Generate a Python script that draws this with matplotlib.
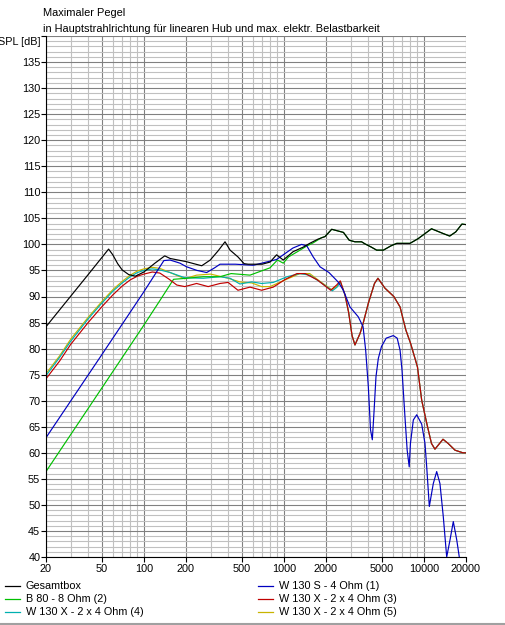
import matplotlib
matplotlib.use("Agg")
import matplotlib.pyplot as plt
from matplotlib.lines import Line2D
from matplotlib.ticker import FixedLocator, NullFormatter

plt.rcParams['font.family'] = ['Liberation Sans', 'DejaVu Sans']

# ---- data ----
f_gesamt = [20, 40, 56, 60, 65, 70, 78, 87, 100, 120, 141, 154, 200, 259, 298, 340, 380,
            413, 470, 520, 556, 700, 796, 887, 990, 1164, 1380, 1530, 1750, 1968, 2196,
            2665, 2930, 3220, 3590, 3800, 4200, 4600, 5140, 5800, 6400, 7960, 9100, 11340,
            13700, 15300, 16900, 18700, 20000]
spl_gesamt = [84.2, 94.2, 99.1, 98.0, 96.3, 95.1, 94.2, 93.9, 94.7, 96.4, 97.8, 97.3, 96.7,
              95.9, 97.0, 98.8, 100.5, 98.9, 97.6, 96.3, 96.2, 96.2, 96.6, 98.0, 97.0, 98.6,
              99.5, 100.2, 101.0, 101.5, 102.9, 102.3, 100.8, 100.5, 100.5, 100.1, 99.5, 98.9,
              98.9, 99.7, 100.2, 100.2, 101.1, 103.0, 102.1, 101.6, 102.4, 103.9, 103.8]

f_w130s = [20, 50, 100, 139, 154, 181, 202, 240, 281, 320, 350, 450, 606, 887, 990, 1160,
           1340, 1460, 1620, 1812, 2100, 2440, 2660, 2966, 3400, 3680, 3840, 4012, 4160,
           4284, 4400, 4550, 4728, 4980, 5380, 6050, 6450, 6760, 6980, 7328, 7600, 7860,
           8020, 8410, 8890, 9650, 10186, 10480, 10940, 11680, 12350, 13030, 13770, 14560,
           15380, 16230, 17170, 17910, 20000]
spl_w130s = [62.9, 78.8, 90.9, 96.9, 97.0, 96.4, 95.7, 95.0, 94.6, 95.5, 96.2, 96.2, 96.0,
             97.1, 98.0, 99.3, 100.0, 99.7, 97.6, 95.7, 94.6, 92.8, 91.2, 88.0, 86.1, 84.2,
             79.7, 72.7, 64.4, 62.5, 67.6, 74.6, 78.1, 80.4, 82.0, 82.5, 82.0, 79.7, 75.9,
             66.9, 60.5, 57.3, 61.8, 66.3, 67.3, 65.5, 61.8, 57.3, 49.7, 54.1, 56.4, 54.1,
             47.7, 40.0, 43.3, 46.8, 43.3, 40.0, 34.0]

f_b80 = [20, 50, 100, 130, 163, 202, 266, 350, 420, 573, 675, 796, 900, 990, 1080, 1250,
         1460, 1620, 1860, 1968, 2196, 2665, 2930, 3220, 3590, 3800, 4200, 4600, 5140, 5800,
         6400, 7960, 9100, 11340, 13700, 15300, 16900, 18700, 20000]
spl_b80 = [56.4, 72.4, 84.5, 89.2, 93.3, 93.5, 93.8, 93.8, 94.4, 94.1, 94.8, 95.5, 97.0,
           96.4, 97.6, 98.6, 99.7, 100.3, 101.3, 101.5, 102.9, 102.3, 100.8, 100.5, 100.5,
           100.1, 99.5, 98.9, 98.9, 99.7, 100.2, 100.2, 101.1, 103.0, 102.1, 101.6, 102.4,
           103.9, 103.8]

f_w130x3 = [20, 25, 30, 40, 50, 60, 70, 80, 90, 100, 115, 130, 150, 172, 196, 238, 288, 350,
            400, 470, 573, 694, 840, 1025, 1240, 1420, 1730, 2160, 2380, 2530, 2734, 2900,
            3070, 3220, 3500, 3680, 4012, 4440, 4700, 5274, 6100, 6760, 7430, 8040, 9000,
            9650, 10480, 11330, 12000, 13700, 14900, 16700, 19000, 20000]
spl_w130x3 = [74.2, 77.6, 80.8, 85.0, 88.0, 90.3, 92.0, 93.2, 93.9, 94.3, 94.7, 94.5, 93.4,
              92.2, 91.9, 92.5, 91.9, 92.5, 92.7, 91.2, 91.8, 91.2, 91.8, 93.3, 94.4, 94.4,
              93.2, 91.2, 92.2, 93.0, 90.3, 87.0, 82.5, 80.7, 82.9, 84.8, 88.7, 92.5, 93.5,
              91.6, 90.0, 88.0, 83.6, 81.0, 76.5, 70.1, 65.7, 61.8, 60.7, 62.6, 61.8, 60.5,
              60.0, 60.0]

f_w130x4 = [20, 25, 30, 40, 50, 60, 70, 80, 90, 100, 115, 130, 154, 196, 266, 350, 413, 485,
            590, 694, 840, 1055, 1300, 1530, 1812, 2220, 2400, 2530, 2734, 2900, 3070, 3220,
            3500, 3680, 4012, 4440, 4700, 5274, 6100, 6760, 7430, 8040, 9000, 9650, 10480,
            11330, 12000, 13700, 14900, 16700, 19000, 20000]
spl_w130x4 = [74.8, 78.3, 81.4, 85.7, 88.7, 91.0, 92.6, 93.8, 94.6, 95.0, 95.3, 95.1, 94.6,
              93.6, 93.5, 93.8, 93.5, 92.4, 92.8, 92.5, 92.7, 93.8, 94.4, 94.1, 92.8, 91.1,
              91.8, 92.8, 90.3, 87.0, 82.5, 80.7, 82.9, 84.8, 88.7, 92.5, 93.5, 91.6, 90.0,
              88.0, 83.6, 81.0, 76.5, 70.1, 65.7, 61.8, 60.7, 62.6, 61.8, 60.5, 60.0, 60.0]

f_w130x5 = [20, 25, 30, 40, 50, 60, 70, 80, 90, 100, 115, 130, 154, 196, 238, 300, 400, 485,
            590, 694, 796, 1025, 1300, 1530, 1812, 2200, 2400, 2530, 2734, 2900, 3070, 3220,
            3500, 3680, 4012, 4440, 4700, 5274, 6100, 6760, 7430, 8040, 9000, 9650, 10480,
            11330, 12000, 13700, 14900, 16700, 19000, 20000]
spl_w130x5 = [75.2, 78.6, 81.8, 86.0, 89.0, 91.3, 92.9, 94.1, 94.9, 95.3, 95.6, 95.4, 94.6,
              93.4, 94.1, 94.3, 93.5, 92.8, 92.6, 91.9, 91.9, 93.2, 94.4, 94.4, 92.9, 91.3,
              92.0, 92.9, 90.3, 87.0, 82.5, 80.7, 82.9, 84.8, 88.7, 92.5, 93.5, 91.6, 90.0,
              88.0, 83.6, 81.0, 76.5, 70.1, 65.7, 61.8, 60.7, 62.6, 61.8, 60.5, 60.0, 60.0]

x_ticks = [20, 50, 100, 200, 500, 1000, 2000, 5000, 10000, 20000]
y_ticks = list(range(40, 140, 5))

c_black = '#000000'
c_blue = '#0000c0'
c_green = '#00c000'
c_red = '#c00000'
c_cyan = '#00b0b0'
c_yellow = '#c8b400'

W, H = 505, 625
fig = plt.figure(figsize=(W / 100, H / 100), dpi=100)
fig.patch.set_facecolor('white')
ax = fig.add_axes([46 / W, 1 - 557 / H, 420 / W, 521 / H])

ax.set_xscale('log')
ax.set_xlim(20, 20000)
ax.set_ylim(40, 140)

minor_x = [m * d for d in (10, 100, 1000, 10000) for m in range(1, 10)
           if 20 < m * d < 20000 and m * d not in x_ticks]
ax.xaxis.set_major_locator(FixedLocator(x_ticks))
ax.xaxis.set_minor_locator(FixedLocator(minor_x))
ax.set_xticklabels([str(t) for t in x_ticks])
ax.xaxis.set_minor_formatter(NullFormatter())
ax.yaxis.set_major_locator(FixedLocator(y_ticks + [140]))
ax.yaxis.set_minor_locator(FixedLocator([v for v in range(40, 141) if v % 5]))
ax.set_yticklabels([str(t) for t in y_ticks] + [''])

ax.grid(which='major', color='#808080', lw=0.8)
ax.grid(which='minor', color='#c0c0c0', lw=0.8)
ax.set_axisbelow(True)
ax.tick_params(which='major', length=3.5, width=0.8, color='#000000', pad=1.5,
               labelsize=7.8)
ax.tick_params(axis='y', pad=0.6)
ax.tick_params(which='minor', length=0)
for s in ('top', 'right'):
    ax.spines[s].set_visible(False)
for s in ('left', 'bottom'):
    ax.spines[s].set_color('#000000')
    ax.spines[s].set_linewidth(0.8)

lw = 0.85
ax.plot(f_w130x5, spl_w130x5, color=c_yellow, lw=lw)
ax.plot(f_w130x4, spl_w130x4, color=c_cyan, lw=lw)
ax.plot(f_b80, spl_b80, color=c_green, lw=lw)
ax.plot(f_w130x3, spl_w130x3, color=c_red, lw=lw)
ax.plot(f_w130s, spl_w130s, color=c_blue, lw=lw)
ax.plot(f_gesamt, spl_gesamt, color=c_black, lw=lw)

fig.text(43 / W, 1 - 13 / H, 'Maximaler Pegel', fontsize=7.9, va='center', ha='left')
fig.text(43 / W, 1 - 29 / H,
         'in Hauptstrahlrichtung für linearen Hub und max. elektr. Belastbarkeit',
         fontsize=7.9, va='center', ha='left')
fig.text(41 / W, 1 - 42 / H, 'SPL [dB]', fontsize=7.8, va='center', ha='right')

# legend, laid out like the original
legend_rows = [
    ('Gesamtbox', c_black, 5, 586),
    ('B 80 - 8 Ohm (2)', c_green, 5, 599),
    ('W 130 X - 2 x 4 Ohm (4)', c_cyan, 5, 612),
    ('W 130 S - 4 Ohm (1)', c_blue, 258, 586),
    ('W 130 X - 2 x 4 Ohm (3)', c_red, 258, 599),
    ('W 130 X - 2 x 4 Ohm (5)', c_yellow, 258, 612),
]
for label, col, x0, yc in legend_rows:
    fig.add_artist(Line2D([x0 / W, (x0 + 15) / W], [1 - yc / H, 1 - yc / H],
                          color=col, lw=0.9, transform=fig.transFigure))
    fig.text((x0 + 21) / W, 1 - yc / H, label, fontsize=7.8, va='center', ha='left')

fig.add_artist(Line2D([0, 1], [1 - 623.5 / H, 1 - 623.5 / H], color='#a0a0a0', lw=1.5,
                      transform=fig.transFigure))

fig.savefig('out.png', dpi=100)
